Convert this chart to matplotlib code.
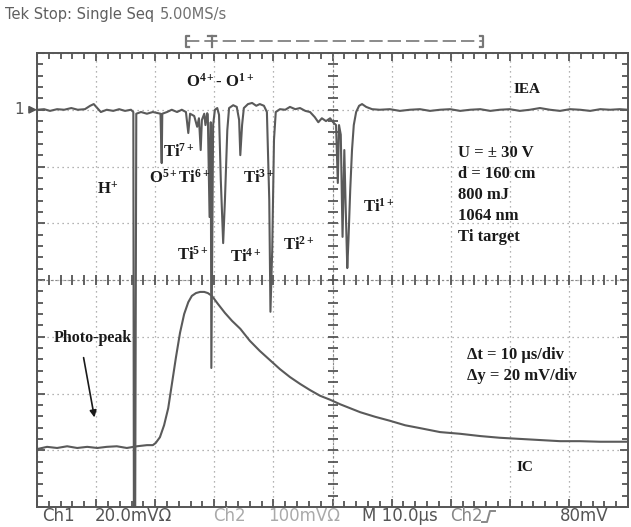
import numpy as np
import matplotlib
matplotlib.use('Agg')
from matplotlib import pyplot as plt
from matplotlib.lines import Line2D

# time in microseconds (10 us/div), levels in screen divisions (+-4 div)
iea_time = [0.0, 1.2, 2.2, 3.4, 4.6, 5.8, 6.9, 8.1, 9.0, 9.6, 10.2, 10.8, 11.8, 12.9,
            13.9, 14.9, 15.9, 16.3, 16.4, 16.6, 16.8, 17.6, 18.6, 19.6, 20.5, 20.9,
            21.1, 21.2, 22.0, 22.8, 23.7, 24.5, 25.2, 25.6, 25.9, 26.6, 27.1, 27.4,
            27.7, 27.9, 28.3, 28.5, 28.8, 28.9, 29.2, 29.4, 29.5, 29.8, 30.1, 30.5,
            30.8, 31.1, 31.5, 31.8, 32.2, 32.5, 33.2, 33.8, 34.2, 34.4, 34.7, 35.0,
            35.7, 36.4, 37.1, 37.7, 38.4, 38.9, 39.3, 39.5, 39.8, 40.1, 40.4, 41.1,
            42.0, 42.8, 43.7, 44.5, 45.4, 46.2, 47.0, 47.6, 48.2, 48.9, 49.6, 50.1,
            50.6, 50.9, 51.1, 51.4, 51.7, 52.0, 52.2, 52.5, 52.7, 53.0, 53.3, 53.6,
            54.0, 54.5, 55.0, 55.7, 56.7, 58.0, 59.7, 61.4, 63.1, 64.8, 66.5, 68.2,
            69.9, 71.6, 73.3, 75.0, 76.7, 78.3, 80.0, 81.7, 83.4, 85.1, 86.8, 88.5,
            90.2, 91.9, 93.6, 95.3, 97.0, 98.6, 100.0]
iea_level = [3.00, 3.01, 2.98, 3.01, 3.00, 3.03, 3.00, 3.01, 3.07, 3.10, 3.03, 2.96, 3.00, 2.98,
             3.01, 2.98, 3.00, 2.96, -4.67, -4.67, 2.93, 2.96, 2.93, 2.96, 2.94, 2.93,
             2.06, 2.93, 2.96, 3.00, 2.96, 3.00, 2.96, 2.59, 2.93, 2.89, 2.70, 2.85,
             2.29, 2.82, 2.93, 2.73, 2.94, 2.91, 1.11, 2.78, -1.55, 2.73, 3.00, 3.03,
             2.91, 1.76, 0.65, 1.41, 2.64, 3.03, 3.08, 3.05, 2.82, 2.20, 2.73, 3.03,
             3.10, 3.12, 3.07, 3.10, 3.07, 2.96, 1.41, -0.56, 0.53, 2.47, 2.96, 3.01,
             3.00, 3.05, 3.01, 3.03, 2.98, 2.96, 2.87, 2.78, 2.85, 2.80, 2.85, 2.78,
             2.73, 1.71, 2.73, 2.56, 0.76, 2.29, 1.41, 0.21, 0.70, 1.59, 2.29, 2.73,
             2.96, 3.07, 3.10, 3.05, 3.01, 3.00, 3.01, 2.98, 3.00, 3.01, 2.98, 3.00,
             3.01, 2.98, 3.00, 3.01, 2.98, 3.00, 3.01, 2.98, 3.00, 3.03, 3.00, 2.98,
             3.01, 3.00, 2.98, 3.01, 3.00, 3.01, 3.00]

ic_time = [0.0, 1.7, 3.4, 5.1, 6.8, 8.5, 10.2, 11.8, 13.5, 15.2, 16.9, 18.6, 19.6, 20.1,
           20.8, 21.5, 22.2, 22.8, 23.5, 24.2, 24.9, 25.6, 26.2, 26.9, 27.6, 28.3,
           28.9, 29.6, 30.6, 31.8, 33.0, 34.4, 36.0, 37.7, 39.4, 41.1, 42.8, 44.5,
           46.2, 47.9, 49.6, 51.3, 53.0, 54.7, 57.2, 59.7, 62.3, 64.8, 68.2, 71.6,
           75.0, 78.3, 81.7, 85.1, 88.5, 91.9, 95.3, 100.0]
ic_level = [-2.98, -2.94, -2.96, -2.93, -2.96, -2.94, -2.96, -2.94, -2.93, -2.96, -2.93, -2.91,
            -2.91, -2.87, -2.77, -2.56, -2.26, -1.85, -1.37, -0.93, -0.60, -0.39, -0.28,
            -0.23, -0.21, -0.21, -0.23, -0.28, -0.42, -0.58, -0.72, -0.86, -1.07, -1.25,
            -1.41, -1.57, -1.71, -1.83, -1.94, -2.04, -2.11, -2.19, -2.26, -2.33, -2.41,
            -2.48, -2.56, -2.61, -2.68, -2.71, -2.75, -2.78, -2.80, -2.82, -2.84, -2.84,
            -2.85, -2.85]

ion_labels = ['O$^{4+}$- O$^{1+}$', 'Ti$^{7+}$', 'O$^{5+}$Ti$^{6+}$', 'H$^{+}$', 'Ti$^{3+}$',
              'Ti$^{5+}$', 'Ti$^{4+}$', 'Ti$^{2+}$', 'Ti$^{1+}$']
ion_time = [31.0, 24.0, 24.2, 12.0, 37.6, 26.4, 35.4, 44.3, 57.9]
ion_level = [3.49, 2.26, 1.80, 1.59, 1.80, 0.44, 0.41, 0.62, 1.29]

setup_lines = ['U = \u00b1 30 V', 'd = 160 cm', '800 mJ', '1064 nm', 'Ti target']
scale_lines = ['\u0394t = 10 \u00b5s/div', '\u0394y = 20 mV/div']

footer_items = [('Ch1', 42, '#555555'), ('20.0mV\u03a9', 95, '#555555'),
                ('Ch2', 213, '#aaaaaa'), ('100mV\u03a9', 268, '#aaaaaa'),
                ('M 10.0\u00b5s', 362, '#555555'), ('Ch2', 450, '#888888'),
                ('80mV', 560, '#555555')]

W, H = 631, 527
TRACE = '#5a5a5a'
INK = '#1a1a1a'

plt.rcParams['mathtext.fontset'] = 'custom'
plt.rcParams['mathtext.rm'] = 'Liberation Serif:bold'
plt.rcParams['mathtext.it'] = 'Liberation Serif:bold'
plt.rcParams['mathtext.bf'] = 'Liberation Serif:bold'


def fx(x):
    return x / W


def fy(y):
    return 1 - y / H


def draw_graticule(ax):
    ax.set_xlim(0, 100)
    ax.set_ylim(-4, 4)
    ax.set_xticks(np.arange(0, 101, 10))
    ax.set_xticks(np.arange(0, 101, 2), minor=True)
    ax.set_yticks(np.arange(-4, 5, 1))
    ax.set_yticks(np.arange(-4, 4.01, 0.2), minor=True)
    ax.tick_params(which='both', direction='in', top=True, right=True,
                   labelbottom=False, labelleft=False, color='#555555', width=1.3)
    ax.tick_params(which='major', length=6)
    ax.tick_params(which='minor', length=4)
    ax.grid(True, which='major', linestyle=(0, (1, 3)), color='#9a9a9a', linewidth=0.9)
    for spine in ax.spines.values():
        spine.set_color('#555555')
        spine.set_linewidth(1.4)

    # centre cross with fine division marks
    ax.axhline(0, color='#888888', lw=0.8, ls=(0, (2, 2)))
    ax.axvline(50, color='#888888', lw=0.8, ls=(0, (2, 2)))
    xs = np.arange(0, 101, 2)
    ys = np.arange(-4, 4.01, 0.2)
    ax.plot(xs, np.zeros_like(xs), ls='none', marker='|', ms=7, mew=1.3, color='#555555')
    ax.plot(np.full_like(ys, 50), ys, ls='none', marker='_', ms=7, mew=1.3, color='#555555')


fig = plt.figure(figsize=(W / 100, H / 100), dpi=100)
ax = fig.add_axes([fx(37), fy(507), fx(628) - fx(37), fy(53) - fy(507)])
draw_graticule(ax)

ax.plot(iea_time, iea_level, color=TRACE, lw=1.5, solid_joinstyle='round')
ax.plot(ic_time, ic_level, color=TRACE, lw=1.5, solid_joinstyle='round')

# channel 1 ground marker
ax.annotate('1', xy=(0, 3.0), xytext=(-13, 0), textcoords='offset points',
            va='center', ha='center', fontsize=11, color='#555555',
            arrowprops=dict(arrowstyle='-|>', color='#555555', lw=1.2, shrinkA=2, shrinkB=0),
            annotation_clip=False)

serif = dict(family='Liberation Serif', weight='bold', color=INK)
for label, t, v in zip(ion_labels, ion_time, ion_level):
    ax.text(t, v, label, ha='center', va='center', fontsize=12, **serif)

ax.text(82.9, 3.35, 'IEA', ha='center', va='center', fontsize=11, **serif)
for i, line in enumerate(setup_lines):
    ax.text(71.2, 2.24 - i * 0.37, line, ha='left', va='center', fontsize=12, **serif)

ax.text(2.9, -1.02, 'Photo-peak', ha='left', va='center', fontsize=11.5, **serif)
ax.annotate('', xy=(9.8, -2.47), xytext=(7.8, -1.32),
            arrowprops=dict(arrowstyle='-|>', color=INK, lw=1.2, mutation_scale=10))
for i, line in enumerate(scale_lines):
    ax.text(72.8, -1.32 - i * 0.37, line, ha='left', va='center', fontsize=12, **serif)
ax.text(82.6, -3.30, 'IC', ha='center', va='center', fontsize=11, **serif)

# scope header and record bracket
fig.text(fx(5), fy(15), 'Tek Stop: Single Seq', fontsize=10.5, color='#5f5f5f',
         va='center', ha='left')
fig.text(fx(160), fy(15), '5.00MS/s', fontsize=10.5, color='#707070', va='center', ha='left')
bracket = '#777777'
fig.add_artist(Line2D([fx(186), fx(483)], [fy(41), fy(41)], color=bracket, lw=1.2,
                      ls=(0, (8, 3))))
fig.add_artist(Line2D([fx(189), fx(186), fx(186), fx(189)], [fy(36), fy(36), fy(47), fy(47)],
                      color=bracket, lw=1.6))
fig.add_artist(Line2D([fx(480), fx(483), fx(483), fx(480)], [fy(36), fy(36), fy(47), fy(47)],
                      color=bracket, lw=1.6))
fig.add_artist(Line2D([fx(208), fx(216)], [fy(36), fy(36)], color=bracket, lw=1.6))
fig.add_artist(Line2D([fx(212), fx(212)], [fy(36), fy(47)], color=bracket, lw=1.6))

# scope footer
for text, x, color in footer_items:
    fig.text(fx(x), fy(516), text, fontsize=12, color=color, va='center', ha='left')
fig.add_artist(Line2D([fx(482), fx(487), fx(490), fx(495)],
                      [fy(522), fy(522), fy(511), fy(511)], color='#888888', lw=1.4))

fig.savefig('out.png', dpi=100)
